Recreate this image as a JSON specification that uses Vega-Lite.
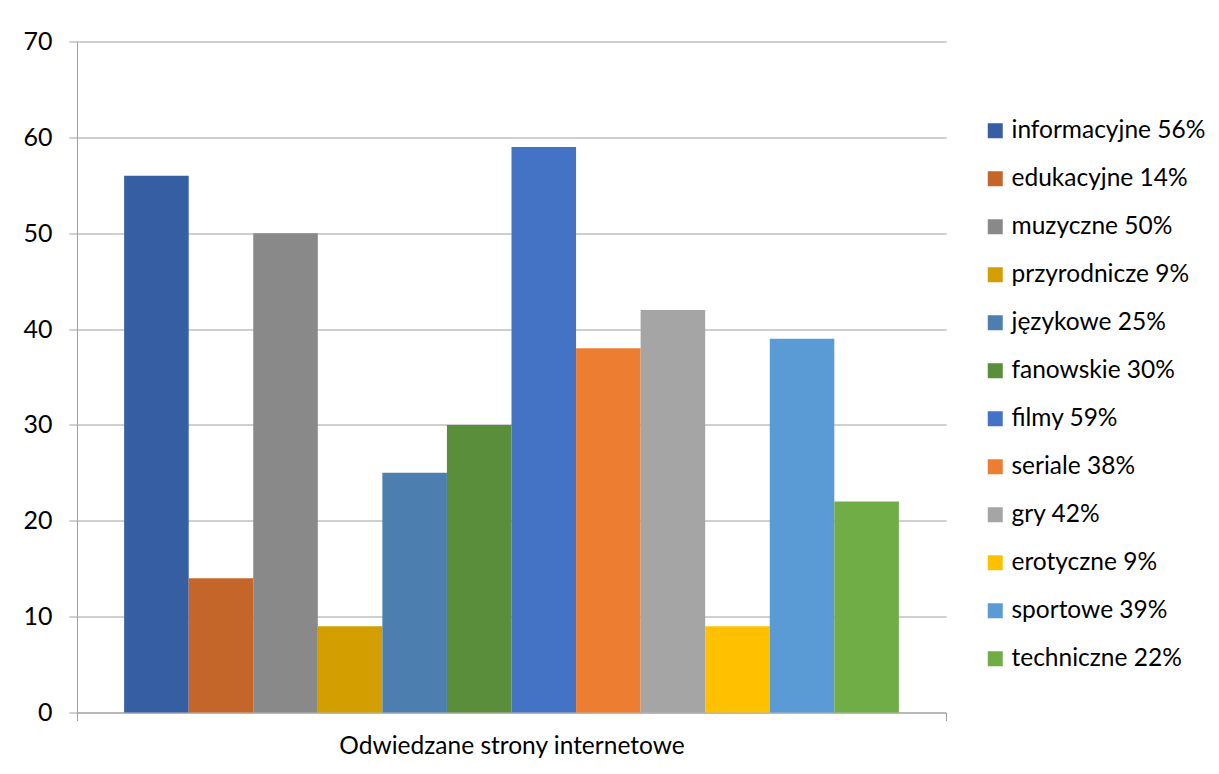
{
  "$schema": "https://vega.github.io/schema/vega-lite/v6.json",
  "width": 869,
  "height": 671,
  "autosize": {"type": "none"},
  "padding": {"left": 77, "top": 41.5, "right": 273, "bottom": 61.5},
  "background": "white",
  "data": {
    "values": [
      {"kategoria": "Odwiedzane strony internetowe", "seria": "informacyjne 56%", "wartosc": 56},
      {"kategoria": "Odwiedzane strony internetowe", "seria": "edukacyjne 14%", "wartosc": 14},
      {"kategoria": "Odwiedzane strony internetowe", "seria": "muzyczne 50%", "wartosc": 50},
      {"kategoria": "Odwiedzane strony internetowe", "seria": "przyrodnicze 9%", "wartosc": 9},
      {"kategoria": "Odwiedzane strony internetowe", "seria": "językowe 25%", "wartosc": 25},
      {"kategoria": "Odwiedzane strony internetowe", "seria": "fanowskie 30%", "wartosc": 30},
      {"kategoria": "Odwiedzane strony internetowe", "seria": "filmy 59%", "wartosc": 59},
      {"kategoria": "Odwiedzane strony internetowe", "seria": "seriale 38%", "wartosc": 38},
      {"kategoria": "Odwiedzane strony internetowe", "seria": "gry 42%", "wartosc": 42},
      {"kategoria": "Odwiedzane strony internetowe", "seria": "erotyczne 9%", "wartosc": 9},
      {"kategoria": "Odwiedzane strony internetowe", "seria": "sportowe 39%", "wartosc": 39},
      {"kategoria": "Odwiedzane strony internetowe", "seria": "techniczne 22%", "wartosc": 22}
    ]
  },
  "mark": {"type": "bar"},
  "encoding": {
    "x": {
      "field": "kategoria",
      "type": "nominal",
      "scale": {"paddingInner": 0, "paddingOuter": 0},
      "axis": {
        "title": null,
        "labelAngle": 0,
        "labelFont": "Lato",
        "labelFontSize": 24.5,
        "labelColor": "#000000",
        "labelPadding": 14,
        "labelLimit": 800,
        "tickBand": "extent",
        "tickSize": 8,
        "tickColor": "#a0a0a0",
        "domainColor": "#a0a0a0",
        "grid": false
      }
    },
    "xOffset": {
      "field": "seria",
      "type": "nominal",
      "sort": null,
      "scale": {"paddingInner": 0, "paddingOuter": 0.73}
    },
    "y": {
      "field": "wartosc",
      "type": "quantitative",
      "scale": {"domain": [0, 70], "nice": false},
      "axis": {
        "title": null,
        "values": [0, 10, 20, 30, 40, 50, 60, 70],
        "labelFont": "Lato",
        "labelFontSize": 25,
        "labelColor": "#000000",
        "labelPadding": 17,
        "tickSize": 8,
        "tickColor": "#a0a0a0",
        "domainColor": "#a0a0a0",
        "gridColor": "#a0a0a0",
        "gridWidth": 1
      }
    },
    "color": {
      "field": "seria",
      "type": "nominal",
      "sort": null,
      "scale": {
        "domain": ["informacyjne 56%", "edukacyjne 14%", "muzyczne 50%", "przyrodnicze 9%", "językowe 25%", "fanowskie 30%", "filmy 59%", "seriale 38%", "gry 42%", "erotyczne 9%", "sportowe 39%", "techniczne 22%"],
        "range": ["#365ea2", "#c4662a", "#898989", "#d39e00", "#4c7fb0", "#5a8e3a", "#4472c4", "#ed7d31", "#a5a5a5", "#ffc000", "#5b9bd5", "#70ad47"]
      },
      "legend": {
        "title": null,
        "orient": "none",
        "legendX": 906,
        "legendY": 77,
        "symbolType": "square",
        "symbolSize": 225,
        "symbolStrokeWidth": 0,
        "labelFont": "Lato",
        "labelFontSize": 24.5,
        "labelColor": "#000000",
        "labelOffset": 4,
        "rowPadding": 23,
        "labelLimit": 400
      }
    }
  },
  "config": {
    "view": {"stroke": null}
  }
}
